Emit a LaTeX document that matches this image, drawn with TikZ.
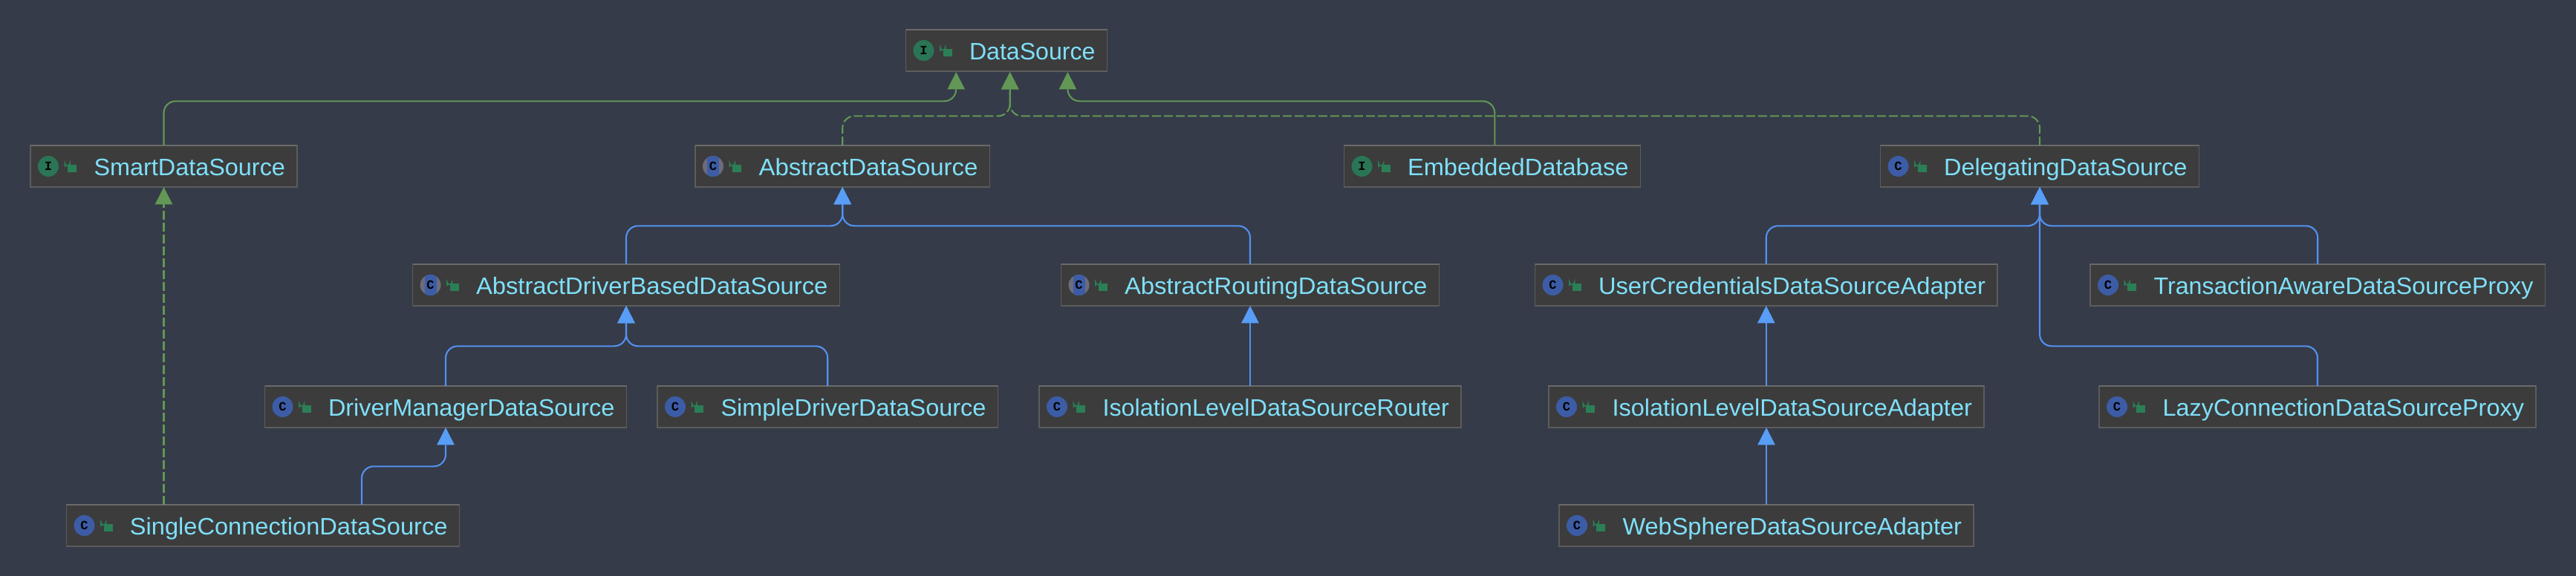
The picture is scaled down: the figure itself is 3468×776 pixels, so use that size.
\documentclass[tikz,border=0pt]{standalone}
\usepackage{fontspec}
\usepackage{graphicx}
\setmainfont{Liberation Sans}
\newfontfamily\iconfont{Liberation Mono}[BoldFont={Liberation Mono Bold}]
\usetikzlibrary{arrows.meta}
\definecolor{bgcol}{HTML}{353B48}
\definecolor{boxfill}{HTML}{3C3C3C}
\definecolor{boxline}{HTML}{5C5C5C}
\definecolor{boxtopline}{HTML}{6A6A6A}
\definecolor{labelcol}{HTML}{7FE0FA}
\definecolor{greenline}{HTML}{629755}
\definecolor{greentip}{HTML}{629755}
\definecolor{blueline}{HTML}{5391F0}
\definecolor{bluetip}{HTML}{589DF6}
\definecolor{ifacecol}{HTML}{2A7556}
\definecolor{classcol}{HTML}{3C5CA6}
\definecolor{abstractside}{HTML}{6C6C7C}
\definecolor{lockcol}{HTML}{2B7F57}
\tikzset{
  clsbox/.style={draw=boxline,fill=boxfill,line width=.85pt,inner sep=0pt,outer sep=0pt,
    anchor=north west,text height=20pt,text depth=8pt,text=labelcol,
    font=\fontsize{16pt}{16pt}\selectfont},
  topedge/.style={draw=boxtopline,line width=1.2pt},
  badge/.style={circle,inner sep=0pt,minimum size=14pt,text=black,
    font=\iconfont\bfseries\fontsize{8.5pt}{8.5pt}\selectfont},
  lockbody/.style={fill=lockcol},
  lockbar/.style={draw=lockcol,line width=.8pt},
  link/.style={line width=1.05pt,rounded corners=8pt},
  implsolid/.style={link,draw=greenline,-{Triangle[width=11.85pt,length=11.65pt,line width=0pt,color=greentip]}},
  impldash/.style={implsolid,dash pattern=on 6pt off 2pt},
  extends/.style={link,draw=blueline,-{Triangle[width=11.85pt,length=11.65pt,line width=0pt,color=bluetip]}}
}
% name, left, top, right, kind (i/c/a), text
\newcommand{\clsnode}[6]{%
  \pgfmathsetlengthmacro{\clsw}{(#4-#2)*0.5}%
  \pgfmathsetlengthmacro{\clst}{(#4-#2-101.5)*0.5}%
  \node[clsbox] (#1) at (#2,#3) {\makebox[\clsw][l]{\hspace*{42.75pt}\resizebox{\clst}{\height}{#6}}};
  \draw[topedge] (#1.north west) -- (#1.north east);
  \begin{scope}[shift={(#2,#3)}]
    \csname badge#5\endcsname{#1}
    \fill[lockbody] (50,26) rectangle (62,36);
    \draw[lockbar] (46.5,29) -- (46.5,24) arc[start angle=180,end angle=0,x radius=3.25,y radius=3.25] -- (53,26);
  \end{scope}
}
\newcommand{\badgei}[1]{\node[badge,fill=ifacecol] (#1-badge) at (24,28) {I};}
\newcommand{\badgec}[1]{\node[badge,fill=classcol] (#1-badge) at (24,28) {C};}
\newcommand{\badgea}[1]{\node[badge,fill=abstractside,
   path picture={\fill[classcol] ([xshift=-4pt]path picture bounding box.south) rectangle ([xshift=4pt]path picture bounding box.north);}] (#1-badge) at (24,28) {C};}
% style, source, target, horizontal level
\newcommand{\elbow}[4]{\draw[#1] (#2) -- (#2 |- 0,#4) -- (#3 |- 0,#4) -- (#3);}
\begin{document}
\begin{tikzpicture}[x=0.5pt,y=-0.5pt]
\fill[bgcol] (0,0) rectangle (3468,776);
\useasboundingbox (0,0) rectangle (3468,776);

\clsnode{ds}{1219.5}{40}{1490.5}{i}{DataSource}
\clsnode{smart}{41}{196}{400}{i}{SmartDataSource}
\clsnode{ads}{936}{196}{1332.5}{a}{AbstractDataSource}
\clsnode{emb}{1809.5}{196}{2208.5}{i}{EmbeddedDatabase}
\clsnode{deleg}{2531.5}{196}{2960.5}{c}{DelegatingDataSource}
\clsnode{adb}{555.5}{356}{1130.5}{a}{AbstractDriverBasedDataSource}
\clsnode{routing}{1428.5}{356}{1937.5}{a}{AbstractRoutingDataSource}
\clsnode{ucred}{2066.5}{356}{2689}{c}{UserCredentialsDataSourceAdapter}
\clsnode{tx}{2814}{356}{3426.5}{c}{TransactionAwareDataSourceProxy}
\clsnode{dm}{356.5}{520}{843.5}{c}{DriverManagerDataSource}
\clsnode{simple}{885}{520}{1343.5}{c}{SimpleDriverDataSource}
\clsnode{router}{1399}{520}{1967}{c}{IsolationLevelDataSourceRouter}
\clsnode{iso}{2085}{520}{2671}{c}{IsolationLevelDataSourceAdapter}
\clsnode{lazy}{2826}{520}{3414}{c}{LazyConnectionDataSourceProxy}
\clsnode{single}{89.5}{680}{618.5}{c}{SingleConnectionDataSource}
\clsnode{web}{2099}{680}{2657}{c}{WebSphereDataSourceAdapter}

\coordinate (dsA) at (1287.2,97);
\coordinate (dsB) at (1359.7,97);
\coordinate (dsC) at (1437.4,97);
\coordinate (embTop) at (2012.3,196);
\coordinate (singleTop) at (487,680);

\elbow{implsolid}{smart.north}{dsA}{136.3}
\elbow{implsolid}{embTop}{dsC}{136.3}
\elbow{impldash}{ads.north}{dsB}{156.3}
\elbow{impldash}{deleg.north}{dsB}{156.3}
\draw[impldash] (smart.south |- single.north) -- (smart.south);

\elbow{extends}{adb.north}{ads.south}{304.3}
\elbow{extends}{routing.north}{ads.south}{304.3}
\elbow{extends}{dm.north}{adb.south}{466.3}
\elbow{extends}{simple.north}{adb.south}{466.3}
\elbow{extends}{singleTop}{dm.south}{628.3}
\draw[extends] (routing.south |- router.north) -- (routing.south);
\elbow{extends}{ucred.north}{deleg.south}{304.3}
\elbow{extends}{tx.north}{deleg.south}{304.3}
\elbow{extends}{lazy.north}{deleg.south}{466.3}
\draw[extends] (ucred.south |- iso.north) -- (ucred.south);
\draw[extends] (iso.south |- web.north) -- (iso.south);
\end{tikzpicture}
\end{document}
